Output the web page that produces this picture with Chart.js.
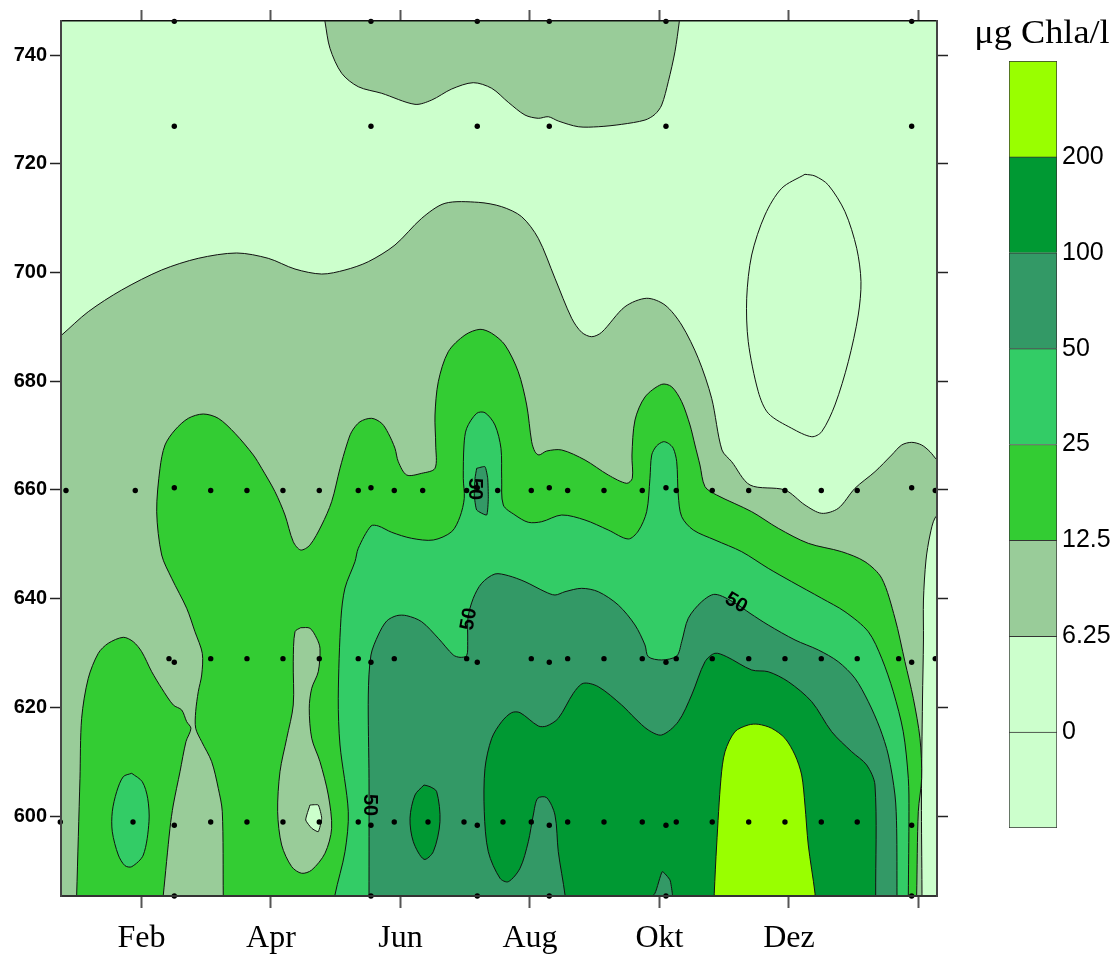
<!DOCTYPE html>
<html><head><meta charset="utf-8">
<script src="https://cdn.jsdelivr.net/npm/chart.js@4.4.1/dist/chart.umd.min.js"></script>
<style>
html,body{margin:0;padding:0;background:#fff;}
#wrap{position:relative;width:1118px;height:954px;overflow:hidden;background:#fff;}
#main{position:absolute;left:0;top:0;}
#bar{position:absolute;left:960px;top:0;}
</style></head><body>
<div id="wrap"><canvas id="main" width="960" height="954"></canvas><canvas id="bar" width="158" height="954"></canvas></div>
<script>
// ---- axes ----
const monthTicks = [2, 4, 6, 8, 10, 12, 14];
const monthLabels = ['Feb', 'Apr', 'Jun', 'Aug', 'Okt', 'Dez', ''];
const depthTicks = [600, 620, 640, 660, 680, 700, 720, 740];
const X_MIN = 0.757, X_MAX = 14.286, Y_MIN = 585.29, Y_MAX = 746.26;

// ---- legend levels (µg Chla/l) ----
const levelTicks = [1, 2, 3, 4, 5, 6, 7];
const levelLabels = ['0', '6.25', '12.5', '25', '50', '100', '200'];
const levelSegments = [1, 1, 1, 1, 1, 1, 1, 1];
const levelColors = ['#CCFFCC', '#CCFFCC', '#99CC99', '#33CC33', '#33CC66', '#339966', '#009933', '#99FF00'];
const unitTitle = 'μg Chla/l';

// ---- sampling points [month, depth] ----
const profileMonths = [2.507, 5.544, 7.186, 8.298, 10.100, 13.895];
const profileDepths = [746.2, 726.9, 660.4, 628.3, 598.3, 585.3];
const row660Months = [0.834, 1.904, 3.069, 3.629, 4.185, 4.746, 5.348, 5.904, 6.343, 7.022, 7.501, 8.020, 8.582, 9.143, 9.734, 10.259, 10.815, 11.378, 11.938, 12.499, 13.054, 14.259];
const row629Months = [2.425, 3.069, 3.629, 4.185, 4.746, 5.348, 5.904, 7.022, 8.020, 8.582, 9.143, 9.734, 10.259, 10.815, 11.378, 11.938, 12.499, 13.054, 13.694, 14.259];
const row599Months = [0.746, 1.869, 3.069, 3.629, 4.185, 4.746, 5.348, 5.904, 6.425, 6.981, 7.583, 8.020, 8.582, 9.143, 9.734, 10.259, 10.815, 11.378, 11.938, 12.499, 13.054];
const rowDepths = [659.9, 628.95, 598.9];

// ---- contour polygons [month, depth] ----
const contourA = [[0.602,583.45],[0.602,586.40],[0.602,683.89],[0.602,686.84],[0.768,688.49],[1.178,692.78],[1.694,696.77],[2.312,700.45],[2.877,702.60],[3.470,703.58],[3.958,702.60],[4.371,700.63],[4.783,699.71],[5.143,700.45],[5.503,701.98],[5.915,705.05],[6.327,709.96],[6.687,712.72],[7.202,712.90],[7.563,712.10],[7.872,710.26],[8.128,706.28],[8.386,698.92],[8.644,691.57],[8.798,688.99],[8.953,688.18],[9.107,688.99],[9.467,693.70],[9.802,695.25],[10.085,694.01],[10.343,690.33],[10.599,684.21],[10.806,676.85],[10.965,667.34],[11.115,665.19],[11.398,660.90],[11.938,659.98],[12.247,657.22],[12.505,655.69],[12.761,656.61],[13.019,660.29],[13.328,663.35],[13.586,666.42],[13.741,668.26],[13.895,668.75],[14.049,668.26],[14.178,667.02],[14.286,665.50],[14.440,664.03],[14.440,657.22],[14.255,654.83],[14.178,651.70],[14.116,647.10],[14.077,639.74],[14.077,632.39],[14.062,621.35],[14.046,602.95],[14.054,586.40],[14.054,583.45]];
const contourAtop = [[4.803,748.10],[4.834,746.13],[4.911,741.23],[5.092,736.64],[5.348,734.17],[5.710,732.96],[6.224,730.93],[6.482,731.72],[6.791,733.75],[7.124,734.91],[7.409,733.88],[7.665,731.30],[7.923,728.96],[8.128,728.36],[8.283,728.65],[8.437,727.86],[8.746,726.81],[9.055,726.81],[9.416,727.25],[9.776,728.04],[9.930,729.09],[10.034,730.80],[10.136,735.09],[10.239,740.61],[10.306,746.13],[10.324,748.10]];
const contourEll = [[12.247,718.06],[11.887,715.48],[11.629,710.57],[11.424,703.21],[11.347,695.25],[11.371,687.26],[11.526,678.06],[11.680,674.09],[12.042,671.33],[12.351,669.78],[12.505,670.70],[12.710,675.62],[12.916,683.58],[13.070,692.17],[13.112,698.30],[13.046,704.44],[12.865,711.18],[12.607,716.09],[12.402,717.74],[12.247,718.06]];
const contourB1 = [[0.995,583.45],[0.999,585.48],[1.050,606.94],[1.076,617.98],[1.178,625.34],[1.333,629.94],[1.487,631.78],[1.719,632.88],[1.873,632.07],[2.003,630.23],[2.158,626.55],[2.312,623.50],[2.491,620.43],[2.621,619.51],[2.698,617.36],[2.764,616.14],[2.687,613.68],[2.595,608.16],[2.491,602.03],[2.440,597.75],[2.337,585.48],[2.317,583.45]];
const contourB2 = [[3.266,583.45],[3.263,585.48],[3.248,600.80],[3.186,605.10],[3.084,610.00],[2.930,613.68],[2.837,616.14],[2.837,619.20],[2.877,622.87],[2.930,625.95],[2.939,629.94],[2.826,633.91],[2.698,638.22],[2.466,643.74],[2.312,648.02],[2.235,655.99],[2.286,663.97],[2.363,668.26],[2.517,671.02],[2.723,673.17],[2.954,673.96],[3.186,673.17],[3.444,670.41],[3.727,666.42],[3.856,663.97],[4.062,659.67],[4.216,655.38],[4.344,650.47],[4.459,648.94],[4.602,649.86],[4.783,653.54],[4.937,657.83],[5.066,663.97],[5.169,668.26],[5.246,670.70],[5.375,672.54],[5.555,673.17],[5.710,672.25],[5.812,670.41],[5.915,667.65],[5.966,665.19],[6.096,662.74],[6.327,663.05],[6.533,663.97],[6.544,668.26],[6.533,673.78],[6.584,679.90],[6.738,685.42],[6.996,688.49],[7.228,689.54],[7.409,688.81],[7.614,686.65],[7.819,681.74],[7.949,675.62],[8.026,668.86],[8.077,667.02],[8.139,666.42],[8.258,667.15],[8.490,667.34],[8.849,665.50],[9.209,662.74],[9.493,661.21],[9.580,662.13],[9.575,666.42],[9.622,672.86],[9.776,677.09],[10.034,679.42],[10.188,678.98],[10.343,676.22],[10.471,671.94],[10.548,668.26],[10.625,664.58],[10.703,660.59],[10.883,659.06],[11.424,655.99],[11.835,652.93],[12.298,650.17],[12.814,648.63],[13.174,646.79],[13.432,643.74],[13.637,636.38],[13.791,628.39],[13.920,621.66],[14.023,614.30],[14.049,606.94],[13.997,600.80],[13.972,585.48],[13.969,583.45]];
const contourH1 = [[4.459,634.65],[4.371,633.91],[4.344,628.39],[4.344,620.43],[4.243,614.30],[4.139,608.16],[4.103,600.80],[4.165,594.67],[4.320,590.68],[4.474,589.47],[4.629,590.07],[4.834,593.15],[4.937,597.75],[4.885,603.87],[4.757,610.00],[4.629,614.30],[4.591,619.82],[4.629,623.50],[4.730,626.55],[4.757,630.86],[4.706,632.70],[4.602,634.54],[4.459,634.65]];
const contourH1in = [[4.602,602.03],[4.730,602.03],[4.783,599.59],[4.730,597.12],[4.629,597.75],[4.536,599.27],[4.602,602.03]];
const contourC1 = [[1.849,607.86],[1.719,607.24],[1.617,604.48],[1.549,600.80],[1.549,597.12],[1.642,592.83],[1.745,590.87],[1.849,590.68],[2.028,592.83],[2.116,598.96],[2.096,603.26],[2.012,606.32],[1.849,607.86]];
const contourC2 = [[4.981,583.45],[4.988,585.48],[5.143,593.44],[5.194,600.80],[5.066,613.07],[5.039,621.66],[5.081,636.38],[5.143,641.95],[5.297,646.79],[5.348,649.25],[5.544,653.36],[5.657,653.36],[5.864,652.20],[6.173,651.09],[6.507,650.78],[6.791,652.31],[6.919,655.07],[6.985,658.45],[6.970,662.13],[6.981,668.26],[7.022,671.33],[7.177,674.09],[7.305,674.20],[7.459,671.94],[7.552,667.65],[7.563,662.13],[7.588,657.22],[7.768,655.38],[7.974,654.04],[8.181,654.15],[8.490,655.38],[8.849,654.46],[9.209,652.62],[9.518,650.97],[9.673,652.44],[9.802,655.99],[9.853,662.13],[9.880,666.42],[9.954,668.07],[10.059,668.86],[10.136,668.57],[10.213,667.65],[10.266,665.19],[10.290,659.06],[10.343,655.07],[10.522,652.62],[10.857,650.78],[11.270,648.63],[11.680,645.57],[12.042,643.11],[12.505,640.06],[12.865,637.59],[13.225,633.91],[13.432,629.02],[13.611,622.87],[13.765,615.51],[13.843,606.94],[13.853,600.80],[13.843,585.48],[13.843,583.45]];
const contourDs = [[7.177,663.97],[7.305,664.27],[7.347,662.13],[7.356,658.45],[7.331,655.38],[7.177,656.30],[7.140,659.06],[7.151,662.13],[7.177,663.97]];
const contourD1 = [[5.514,583.45],[5.514,585.48],[5.514,606.94],[5.503,622.27],[5.544,629.63],[5.657,633.31],[5.787,635.88],[5.941,636.86],[6.096,636.86],[6.327,635.75],[6.584,632.70],[6.815,629.63],[6.919,629.20],[7.022,629.50],[7.038,632.07],[7.042,636.43],[7.124,640.06],[7.254,642.82],[7.459,644.53],[7.665,644.22],[7.923,643.11],[8.232,641.27],[8.386,640.66],[8.541,641.27],[8.798,641.89],[9.055,641.27],[9.364,638.82],[9.622,635.14],[9.776,631.47],[9.827,629.31],[10.034,628.71],[10.266,629.44],[10.343,632.07],[10.445,636.38],[10.652,639.43],[10.857,640.79],[11.166,639.19],[11.398,637.30],[11.680,635.14],[12.093,632.39],[12.453,630.55],[12.761,628.39],[13.019,625.34],[13.225,621.04],[13.405,616.14],[13.534,611.23],[13.637,603.87],[13.663,597.75],[13.668,585.48],[13.668,583.45]];
const contourE1 = [[6.363,605.71],[6.224,603.87],[6.147,599.59],[6.198,595.28],[6.363,592.04],[6.507,593.44],[6.610,598.96],[6.559,604.48],[6.456,605.40],[6.363,605.71]];
const contourE2 = [[8.541,583.45],[8.541,585.48],[8.437,593.44],[8.386,600.19],[8.258,603.38],[8.119,603.26],[8.051,600.19],[7.974,595.28],[7.846,590.39],[7.665,587.92],[7.537,588.55],[7.356,593.44],[7.294,600.80],[7.305,608.78],[7.409,614.30],[7.563,617.36],[7.717,619.02],[7.846,619.02],[8.128,616.57],[8.258,616.57],[8.437,617.98],[8.669,622.58],[8.823,624.42],[9.055,623.80],[9.416,620.43],[9.622,617.98],[9.827,615.83],[10.034,614.91],[10.290,617.36],[10.497,622.27],[10.703,628.39],[10.857,629.94],[11.038,629.31],[11.424,626.87],[11.680,626.55],[11.989,624.72],[12.351,621.04],[12.659,615.52],[12.968,611.84],[13.200,609.39],[13.328,605.71],[13.339,585.48],[13.339,583.45]];
const contourDn = [[9.722,583.45],[9.930,585.79],[10.043,589.76],[10.162,588.24],[10.198,585.79],[10.209,583.45]];
const contourF = [[10.842,583.45],[10.846,585.79],[10.883,594.67],[10.950,606.94],[11.012,611.84],[11.166,615.52],[11.371,616.75],[11.526,616.88],[11.733,616.14],[11.938,614.30],[12.093,611.23],[12.196,607.55],[12.247,602.03],[12.298,594.67],[12.402,585.79],[12.409,583.45]];

// contour labels
const contourLabelPos = [[7.151, 660.16], [7.058, 636.25], [11.182, 639.19], [5.529, 602.03]];
const contourLabelText = ['50', '50', '50', '50'];
const labelAngles = [90, -80, 30, 90];

// drawing order (bottom -> top) with level index into levelColors
const layers = [
  [contourA, 2], [contourAtop, 2], [contourEll, 1],
  [contourB1, 3], [contourB2, 3], [contourH1, 2], [contourH1in, 1],
  [contourC1, 4], [contourC2, 4], [contourDs, 5], [contourD1, 5],
  [contourE1, 6], [contourE2, 6], [contourDn, 5], [contourF, 7]
];

const datasets = layers.map(([pts, lvl], i) => ({
  type: 'line',
  data: pts.map(p => ({x: p[0], y: p[1]})),
  xAxisID: 'x', yAxisID: 'y',
  backgroundColor: levelColors[lvl],
  borderColor: '#111',
  borderWidth: 1,
  fill: 'shape',
  tension: (pts === contourH1in || pts === contourDs || pts === contourDn) ? 0.15 : 0.3,
  pointRadius: 0,
  order: 100 - i
}));

const dotPts = [];
profileMonths.forEach(m => profileDepths.forEach(d => dotPts.push({x: m, y: d})));
[row660Months, row629Months, row599Months].forEach((row, r) => row.forEach(m => dotPts.push({x: m, y: rowDepths[r]})));
datasets.push({
  type: 'line', data: dotPts, xAxisID: 'x', yAxisID: 'y', showLine: false,
  pointRadius: 2.7, pointBackgroundColor: '#000', pointBorderWidth: 0, clip: false, order: 0
});

const plotBg = {
  id: 'plotBg',
  beforeDatasetsDraw(chart) {
    const {ctx, chartArea: a} = chart;
    ctx.save(); ctx.fillStyle = levelColors[1];
    ctx.fillRect(a.left, a.top, a.right - a.left, a.bottom - a.top); ctx.restore();
  }
};
const contourLabels = {
  id: 'contourLabels',
  afterDatasetsDraw(chart) {
    const {ctx} = chart; const xs = chart.scales.x, ys = chart.scales.y;
    ctx.save();
    ctx.font = "bold 20px 'Liberation Sans', Arial, sans-serif";
    ctx.fillStyle = '#000'; ctx.textAlign = 'center'; ctx.textBaseline = 'middle';
    contourLabelPos.forEach((p, i) => {
      ctx.save();
      ctx.translate(xs.getPixelForValue(p[0]), ys.getPixelForValue(p[1]));
      ctx.rotate(labelAngles[i] * Math.PI / 180);
      ctx.fillText(contourLabelText[i], 0, 0);
      ctx.restore();
    });
    ctx.restore();
  }
};

const serif = "'Liberation Serif', 'Times New Roman', serif";
const sans = "'Liberation Sans', Arial, sans-serif";
function hAxis(pos, size, labels) {
  return {
    type: 'linear', position: pos, min: X_MIN, max: X_MAX,
    afterBuildTicks: s => { s.ticks = monthTicks.map(v => ({value: v})); },
    afterFit: s => { s.height = size; },
    ticks: {autoSkip: false, maxRotation: 0, minRotation: 0, padding: 11, color: '#000', z: 1,
      font: {family: serif, size: 32},
      callback: v => labels ? (monthLabels[monthTicks.indexOf(v)] ?? '') : ''},
    grid: {display: true, drawOnChartArea: false, drawTicks: true, tickLength: pos === 'top' ? 11 : 12, tickColor: '#555', tickWidth: 2, z: 1},
    border: {display: true, color: pos === 'top' ? '#111' : '#333', width: pos === 'top' ? 1.5 : 2, z: 1}
  };
}
function vAxis(pos, size, labels) {
  return {
    type: 'linear', position: pos, min: Y_MIN, max: Y_MAX,
    afterBuildTicks: s => { s.ticks = depthTicks.map(v => ({value: v})); },
    afterFit: s => { s.width = size; },
    ticks: {padding: 3, color: '#000', z: 1,
      font: {family: sans, size: 20, weight: 'bold'},
      callback: v => labels ? String(v) : ''},
    grid: {display: true, drawOnChartArea: false, drawTicks: true, tickLength: 11, tickColor: '#222', tickWidth: 1.5, z: 1},
    border: {display: true, color: '#444', width: 2, z: 1}
  };
}

new Chart(document.getElementById('main'), {
  type: 'line',
  data: {datasets},
  options: {
    responsive: false, animation: false, events: [],
    layout: {padding: 0},
    plugins: {legend: {display: false}, tooltip: {enabled: false}, title: {display: false}},
    scales: {
      x: hAxis('bottom', 58, true),
      x2: hAxis('top', 21, false),
      y: vAxis('left', 61, true),
      y2: vAxis('right', 23, false)
    }
  },
  plugins: [plotBg, contourLabels]
});

const barTitle = {
  id: 'barTitle',
  afterDraw(chart) {
    const {ctx} = chart;
    ctx.save();
    ctx.font = "33px " + serif;
    ctx.fillStyle = '#000'; ctx.textAlign = 'center'; ctx.textBaseline = 'alphabetic';
    ctx.translate(82, 43); ctx.scale(1.1, 1);
    ctx.fillText(unitTitle, 0, 0);
    ctx.restore();
  }
};

new Chart(document.getElementById('bar'), {
  type: 'bar',
  data: {
    labels: [''],
    datasets: levelSegments.map((v, i) => ({
      data: [v], backgroundColor: levelColors[i], borderColor: '#333',
      borderWidth: i === 0 ? {top: 1, bottom: 1, left: 1, right: 1} : {top: 1, bottom: 0, left: 1, right: 1},
      borderSkipped: false, barPercentage: 1, categoryPercentage: 1
    }))
  },
  options: {
    responsive: false, animation: false, events: [],
    layout: {padding: {left: 49, top: 61, bottom: 126, right: 0}},
    plugins: {legend: {display: false}, tooltip: {enabled: false}},
    scales: {
      x: {stacked: true, display: false},
      y: {stacked: true, position: 'right', min: 0, max: 8,
        afterBuildTicks: s => { s.ticks = levelTicks.map(v => ({value: v})); },
        afterFit: s => { s.width = 61; },
        ticks: {padding: 5, color: '#000', font: {family: sans, size: 25},
          callback: v => levelLabels[levelTicks.indexOf(v)] ?? ''},
        grid: {display: false, drawTicks: false, tickLength: 0}, border: {display: false}}
    }
  },
  plugins: [barTitle]
});
</script>
</body></html>
